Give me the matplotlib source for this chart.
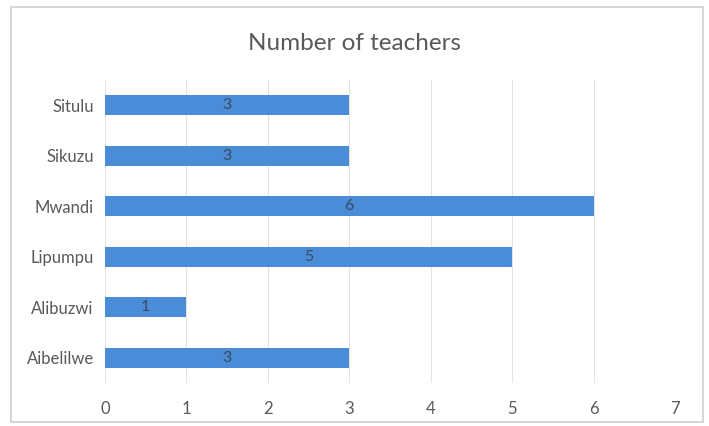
import matplotlib
matplotlib.use('Agg')
import matplotlib.pyplot as plt
from matplotlib.patches import Rectangle

schools = ['Aibelilwe', 'Alibuzwi', 'Lipumpu', 'Mwandi', 'Sikuzu', 'Situlu']
teachers = [3, 1, 5, 6, 3, 3]
xticks = [0, 1, 2, 3, 4, 5, 6, 7]

plt.rcParams['font.family'] = ['Lato', 'DejaVu Sans']

fig = plt.figure(figsize=(7.09, 4.26), dpi=100)
ax = fig.add_axes([0.148, 0.101, 0.804, 0.711])

# light border around the chart like Excel
fig.patches.append(Rectangle((11/709, 4/426), 692/709, 415/426, transform=fig.transFigure,
                             fill=False, edgecolor='#d0d0d0', linewidth=1.2))

bars = ax.barh(range(len(schools)), teachers, height=0.4, color='#4a8cd8', zorder=2)
for i, v in enumerate(teachers):
    ax.text(v / 2, i, str(v), ha='center', va='center', color='#3a4a5c', fontsize=11.5, zorder=3)

ax.set_xlim(0, 7)
ax.set_ylim(-0.5, len(schools) - 0.5)
ax.set_xticks(xticks)
ax.set_yticks(range(len(schools)))
ax.set_yticklabels(schools)
ax.grid(axis='x', color='#e2e2e2', linewidth=0.8, zorder=0)
ax.tick_params(length=0, labelsize=12, colors='#595959', pad=8)
ax.tick_params(axis='x', pad=13)
for s in ax.spines.values():
    s.set_visible(False)

fig.text(0.5, 0.899, 'Number of teachers', ha='center', va='center', fontsize=17.5, color='#595959')

fig.savefig('out.png', dpi=100)
